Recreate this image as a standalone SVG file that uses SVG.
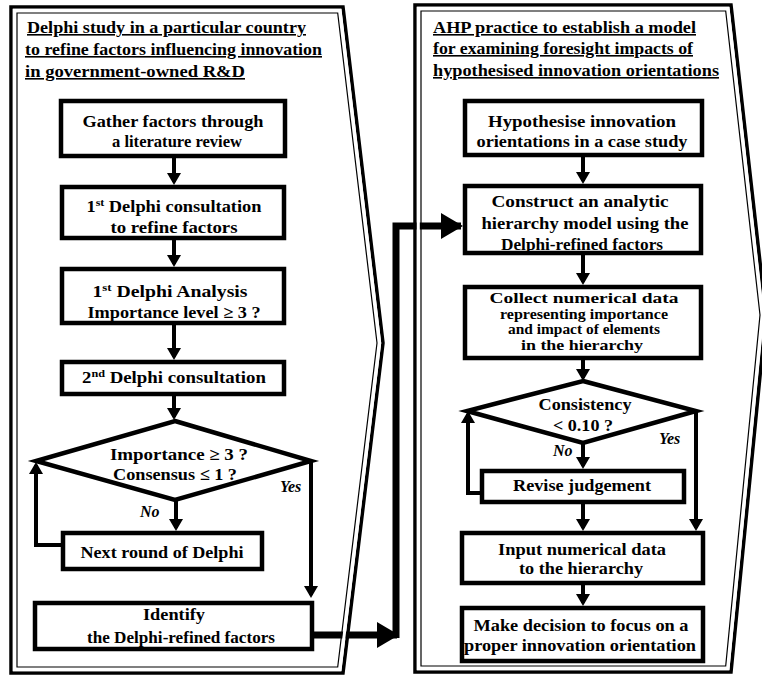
<svg xmlns="http://www.w3.org/2000/svg" width="762" height="676" viewBox="0 0 762 676" font-family="Liberation Serif, Times New Roman, DejaVu Serif, serif">
<style>
text{font-family:'Liberation Serif','Times New Roman','DejaVu Serif',serif}
.t{font-weight:bold;font-size:17px;fill:#000;text-anchor:middle}
.ts{font-weight:bold;font-size:15px;fill:#000;text-anchor:middle}
.ti{font-weight:bold;font-size:16px;fill:#000;text-decoration:underline}
.lb{font-weight:bold;font-style:italic;font-size:16px;fill:#000}
.box{fill:#fff;stroke:#000;stroke-width:4.5}
.c{fill:none;stroke:#000;stroke-width:4}
.big{fill:none;stroke:#000;stroke-width:7}
.pa{fill:none;stroke:#000;stroke-width:3.5;stroke-linejoin:miter}
.pg{fill:none;stroke:#fff;stroke-width:3}
.pb{fill:none;stroke:#000;stroke-width:1.2}
.sup{font-size:11px}
</style>
<defs>
<marker id="ah" markerUnits="userSpaceOnUse" markerWidth="13" markerHeight="14" refX="9" refY="7" orient="auto"><path d="M0,0 L12,7 L0,14 z" fill="#000"/></marker>
<marker id="bh" markerUnits="userSpaceOnUse" markerWidth="23" markerHeight="26" refX="20" refY="13" orient="auto"><path d="M0,0 L22,13 L0,26 z" fill="#000"/></marker>
</defs>
<rect x="0" y="0" width="762" height="676" fill="#fff"/>
<g id="connectors">
<path class="c" d="M174,158 V182" marker-end="url(#ah)"/>
<path class="c" d="M174,240 V264" marker-end="url(#ah)"/>
<path class="c" d="M174,325 V357" marker-end="url(#ah)"/>
<path class="c" d="M174,396 V417" marker-end="url(#ah)"/>
<path class="c" d="M176,500 V528" marker-end="url(#ah)"/>
<path class="c" d="M311,461 V595" marker-end="url(#ah)"/>
<path class="c" d="M63,545 H36 V465" marker-end="url(#ah)"/>
<path class="big" d="M314,635 H397" marker-end="url(#bh)"/>
<path class="big" d="M396,638 V226 H461" marker-end="url(#bh)"/>
<path class="c" d="M583,157 V181" marker-end="url(#ah)"/>
<path class="c" d="M583,255 V282" marker-end="url(#ah)"/>
<path class="c" d="M583,360 V378" marker-end="url(#ah)"/>
<path class="c" d="M583,443 V466" marker-end="url(#ah)"/>
<path class="c" d="M583,504 V528" marker-end="url(#ah)"/>
<path class="c" d="M583,585 V603" marker-end="url(#ah)"/>
<path class="c" d="M696,411 V528" marker-end="url(#ah)"/>
<path class="c" d="M482,493 H468 V414" marker-end="url(#ah)"/>
</g>
<g id="panel-delphi">
<path class="pa" d="M11,7 H343 L383,343 L343,673 H11 Z"/>
<path class="pg" d="M14.3,10.3 H340 L379.7,343 L340,669.7 H14.3 Z"/>
<path class="pb" d="M17,13 H337.7 L377,343 L337.7,667 H17 Z"/>
<text class="ti" x="27" y="33" textLength="279" lengthAdjust="spacingAndGlyphs">Delphi study in a particular country</text>
<text class="ti" x="25" y="55" textLength="297" lengthAdjust="spacingAndGlyphs">to refine factors influencing innovation</text>
<text class="ti" x="25" y="77" textLength="220" lengthAdjust="spacingAndGlyphs">in government-owned R&amp;D</text>
</g>
<g id="panel-ahp">
<path class="pa" d="M415,5 H731 L766,315 L731,672 H415 Z"/>
<path class="pg" d="M418.3,8.3 H728 L762.5,315 L728,668.7 H418.3 Z"/>
<path class="pb" d="M421,11 H725.7 L760,315 L725.7,666 H421 Z"/>
<text class="ti" x="433" y="33" textLength="263" lengthAdjust="spacingAndGlyphs">AHP practice to establish a model</text>
<text class="ti" x="433" y="54" textLength="260" lengthAdjust="spacingAndGlyphs">for examining foresight impacts of</text>
<text class="ti" x="433" y="76" textLength="286" lengthAdjust="spacingAndGlyphs">hypothesised innovation orientations</text>
</g>
<g id="gather">
<rect class="box" x="61" y="101" width="224" height="55"/>
<text class="t" x="173" y="127" textLength="181" lengthAdjust="spacingAndGlyphs">Gather factors through</text>
<text class="t" x="177" y="147" textLength="130" lengthAdjust="spacingAndGlyphs">a literature review</text>
</g>
<g id="consult1">
<rect class="box" x="62" y="187" width="222" height="51"/>
<text class="t" x="174" y="212" textLength="175" lengthAdjust="spacingAndGlyphs">1<tspan class="sup" baseline-shift="super">st</tspan> Delphi consultation</text>
<text class="t" x="174" y="233" textLength="127" lengthAdjust="spacingAndGlyphs">to refine factors</text>
</g>
<g id="analysis1">
<rect class="box" x="62" y="269" width="222" height="54"/>
<text class="t" x="170" y="297" textLength="155" lengthAdjust="spacingAndGlyphs">1<tspan class="sup" baseline-shift="super">st</tspan> Delphi Analysis</text>
<text class="t" x="174" y="318" textLength="173" lengthAdjust="spacingAndGlyphs">Importance level ≥ 3 ?</text>
</g>
<g id="consult2">
<rect class="box" x="62" y="362" width="222" height="32"/>
<text class="t" x="174" y="383" textLength="184" lengthAdjust="spacingAndGlyphs">2<tspan class="sup" baseline-shift="super">nd</tspan>  Delphi consultation</text>
</g>
<g id="decision1">
<polygon class="box" points="175,421 311,461 175,500 36,461"/>
<text class="t" x="179" y="460" textLength="138" lengthAdjust="spacingAndGlyphs">Importance ≥ 3 ?</text>
<text class="t" x="175" y="480" textLength="124" lengthAdjust="spacingAndGlyphs">Consensus ≤ 1 ?</text>
<text class="lb" x="280" y="492">Yes</text>
<text class="lb" x="140" y="517">No</text>
</g>
<g id="nextround">
<rect class="box" x="63" y="533" width="199" height="36"/>
<text class="t" x="162" y="558" textLength="163" lengthAdjust="spacingAndGlyphs">Next round of Delphi</text>
</g>
<g id="identify">
<rect class="box" x="35" y="603" width="277" height="46"/>
<text class="t" x="174" y="620" textLength="62" lengthAdjust="spacingAndGlyphs">Identify</text>
<text class="t" x="181" y="643" textLength="188" lengthAdjust="spacingAndGlyphs">the Delphi-refined factors</text>
</g>
<g id="hypothesise">
<rect class="box" x="465" y="101" width="237" height="54"/>
<text class="t" x="582" y="127" textLength="188" lengthAdjust="spacingAndGlyphs">Hypothesise innovation</text>
<text class="t" x="582" y="147" textLength="211" lengthAdjust="spacingAndGlyphs">orientations in a case study</text>
</g>
<g id="construct">
<rect class="box" x="465" y="186" width="236" height="67"/>
<text class="t" x="580" y="207" textLength="177" lengthAdjust="spacingAndGlyphs">Construct an analytic</text>
<text class="t" x="585" y="229" textLength="207" lengthAdjust="spacingAndGlyphs">hierarchy model using the</text>
<text class="t" x="582" y="250" textLength="162" lengthAdjust="spacingAndGlyphs">Delphi-refined factors</text>
</g>
<g id="collect">
<rect class="box" x="465" y="287" width="236" height="71"/>
<text class="ts" x="584" y="303" textLength="189" lengthAdjust="spacingAndGlyphs">Collect numerical data</text>
<text class="ts" x="584" y="318.5" textLength="168" lengthAdjust="spacingAndGlyphs">representing importance</text>
<text class="ts" x="584" y="334" textLength="152" lengthAdjust="spacingAndGlyphs">and impact of elements</text>
<text class="ts" x="582" y="350" textLength="122" lengthAdjust="spacingAndGlyphs">in the hierarchy</text>
</g>
<g id="decision2">
<polygon class="box" points="583,381 696,411 583,443 467,411"/>
<text class="t" x="585" y="410" textLength="93" lengthAdjust="spacingAndGlyphs">Consistency</text>
<text class="t" x="583" y="431" textLength="60" lengthAdjust="spacingAndGlyphs">&lt; 0.10 ?</text>
<text class="lb" x="659" y="444">Yes</text>
<text class="lb" x="553" y="456">No</text>
</g>
<g id="revise">
<rect class="box" x="482" y="471" width="202" height="31"/>
<text class="t" x="582" y="491" textLength="138" lengthAdjust="spacingAndGlyphs">Revise judgement</text>
</g>
<g id="input">
<rect class="box" x="462" y="533" width="241" height="50"/>
<text class="t" x="582" y="555" textLength="168" lengthAdjust="spacingAndGlyphs">Input numerical data</text>
<text class="t" x="581" y="574" textLength="124" lengthAdjust="spacingAndGlyphs">to the hierarchy</text>
</g>
<g id="decide">
<rect class="box" x="462" y="608" width="241" height="53"/>
<text class="t" x="581" y="631" textLength="215" lengthAdjust="spacingAndGlyphs">Make decision to focus on a</text>
<text class="t" x="580" y="651" textLength="232" lengthAdjust="spacingAndGlyphs">proper innovation orientation</text>
</g>
</svg>
